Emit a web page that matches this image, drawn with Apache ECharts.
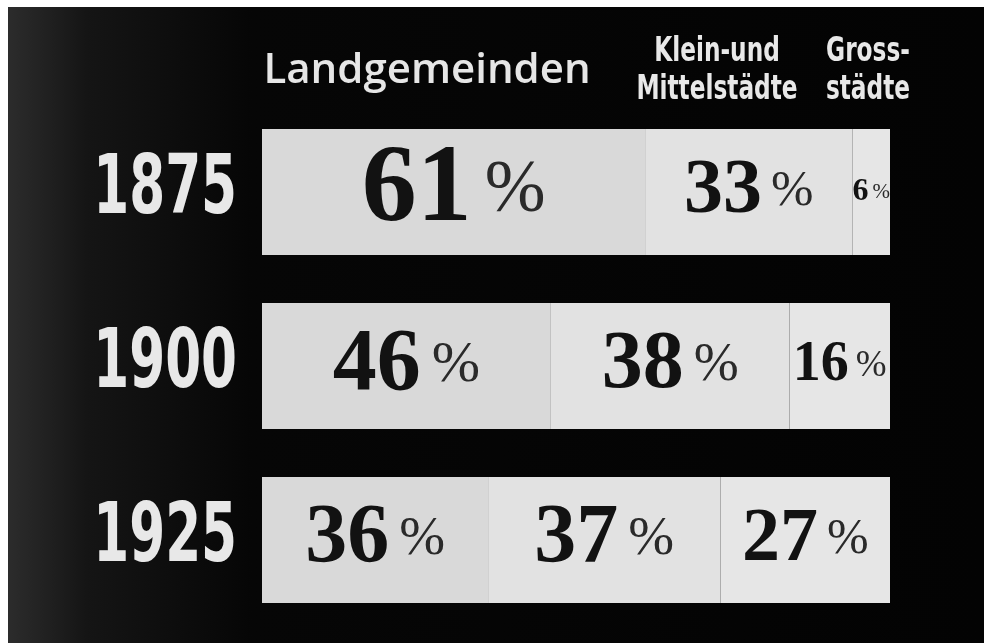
<!DOCTYPE html>
<html>
<head>
<meta charset="utf-8">
<script src="https://cdn.jsdelivr.net/npm/echarts@6/dist/echarts.min.js"></script>
<style>
  html, body { margin: 0; padding: 0; background: #fff; }
  #chart { position: absolute; left: 8px; top: 7px; width: 976px; height: 636px; }
</style>
</head>
<body>
<div id="chart"></div>
<script>
const years = ["1875", "1900", "1925"];
const landgemeinden = [61, 46, 36];
const kleinMittel = [33, 38, 37];
const grossstaedte = [6, 16, 27];

// printed size of each percentage figure (they differ on the original slide)
const sizesLand = [110, 88, 84];
const sizesKlein = [78, 82, 84];
const sizesGross = [32, 56, 76];

const chart = echarts.init(document.getElementById("chart"));

const makeSeries = (name, values, color, sizes) => ({
  name,
  type: "bar",
  stack: "total",
  barWidth: 126,
  itemStyle: { color, borderWidth: 0 },
  label: {
    show: true,
    position: "inside",
    formatter: (p) => `{n|${p.value}}{p|%}`,
  },
  data: values.map((v, i) => ({
    value: v,
    label: {
      rich: {
        n: {
          fontFamily: "Liberation Serif",
          fontWeight: "bold",
          fontSize: sizes[i],
          color: "#121212",
        },
        p: {
          fontFamily: "Liberation Serif",
          fontWeight: "normal",
          fontSize: Math.round(sizes[i] * 0.66),
          color: "#2a2a2a",
          padding: [0, 0, 0, Math.round(sizes[i] * 0.12)],
        },
      },
    },
  })),
});

const condensed = '"DejaVu Sans Condensed", "DejaVu Sans"';

// narrow poster lettering: condensed font squeezed a bit more
const narrowText = (text, x, y, size, squeeze, align) => ({
  type: "text",
  x, y,
  scaleX: squeeze,
  style: {
    text,
    x: 0, y: 0,
    fill: "#e8e8e8",
    font: `bold ${size}px ${condensed}`,
    lineHeight: Math.round(size * 1.12),
    textAlign: align,
    textVerticalAlign: "middle",
  },
});

const option = {
  backgroundColor: new echarts.graphic.LinearGradient(0, 0, 1, 0, [
    { offset: 0, color: "#2c2c2c" },
    { offset: 0.08, color: "#151515" },
    { offset: 0.25, color: "#060606" },
    { offset: 1, color: "#030303" },
  ]),
  animation: false,
  grid: { left: 254, right: 94, top: 98, bottom: 16 },
  xAxis: { type: "value", min: 0, max: 100, show: false },
  yAxis: {
    type: "category",
    data: years,
    inverse: true,
    axisLine: { show: false },
    axisTick: { show: false },
    axisLabel: { show: false },
  },
  series: [
    makeSeries("Landgemeinden", landgemeinden, "#d9d9d9", sizesLand),
    makeSeries("Klein- und Mittelstädte", kleinMittel, "#e2e2e2", sizesKlein),
    makeSeries("Grossstädte", grossstaedte, "#e6e6e6", sizesGross),
  ],
};

chart.setOption(option);

// year labels placed from the category axis, drawn squeezed like the original lettering
const barStart = chart.convertToPixel({ xAxisIndex: 0 }, 0);
const yearLabels = years.map((y) =>
  narrowText(y, barStart - 25, chart.convertToPixel({ yAxisIndex: 0 }, y), 82, 0.7, "right")
);

chart.setOption({
  graphic: [
    {
      type: "text",
      style: {
        text: "Landgemeinden",
        x: 419, y: 64,
        fill: "#e6e6e6",
        font: '600 42px "Open Sans"',
        textAlign: "center",
        textVerticalAlign: "middle",
      },
    },
    narrowText("Klein-und\nMittelstädte", 709, 64, 34, 0.76, "center"),
    narrowText("Gross-\nstädte", 860, 64, 34, 0.76, "center"),
    ...yearLabels,
  ],
});
</script>
</body>
</html>
